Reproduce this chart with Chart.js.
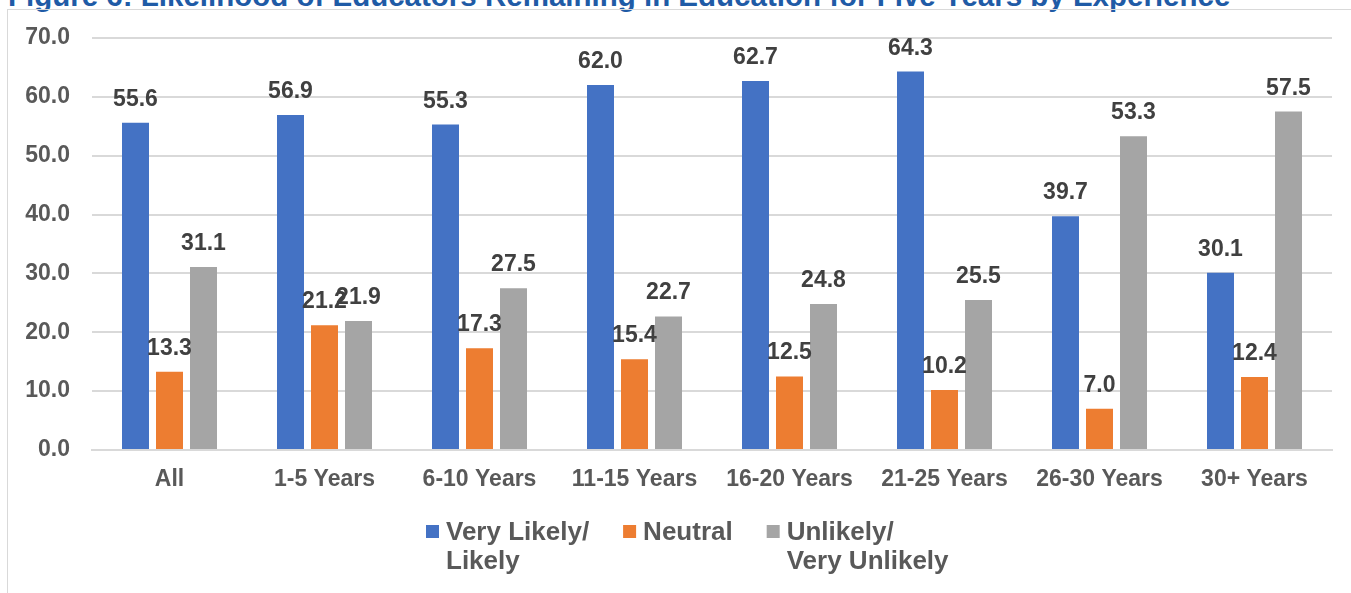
<!DOCTYPE html>
<html>
<head>
<meta charset="utf-8">
<title>Likelihood of Educators Remaining in Education for Five Years by Experience</title>
<script src="https://cdn.jsdelivr.net/npm/chart.js@4/dist/chart.umd.min.js"></script>
<style>
  html, body { margin: 0; padding: 0; background: #ffffff; overflow: hidden; }
  body { width: 1351px; height: 593px; position: relative; }
  #title {
    position: absolute; left: 8px; top: -21px; margin: 0;
    font: bold 29.5px "Liberation Sans", Arial, sans-serif;
    color: #1F5BA6; white-space: nowrap; line-height: 33px;
  }
  #frame {
    position: absolute; left: 7px; top: 9px; width: 1400px; height: 700px;
    border: 1px solid #D9D9D9; box-sizing: border-box;
  }
  #chart { position: absolute; left: 0; top: 0; }
</style>
</head>
<body>
<h1 id="title">Figure 6: Likelihood of Educators Remaining in Education for Five Years by Experience</h1>
<div id="frame"></div>
<canvas id="chart" width="1351" height="593"></canvas>
<script>
// Years of experience groups
const categories = ["All", "1-5 Years", "6-10 Years", "11-15 Years", "16-20 Years", "21-25 Years", "26-30 Years", "30+ Years"];

// Percent of educators in each response group
const veryLikelyLikely = [55.6, 56.9, 55.3, 62.0, 62.7, 64.3, 39.7, 30.1];
const neutral = [13.3, 21.2, 17.3, 15.4, 12.5, 10.2, 7.0, 12.4];
const unlikelyVeryUnlikely = [31.1, 21.9, 27.5, 22.7, 24.8, 25.5, 53.3, 57.5];

// Legend text, one entry per line
const seriesNames = [["Very Likely/", "Likely"], ["Neutral"], ["Unlikely/", "Very Unlikely"]];
const seriesColors = ["#4472C4", "#ED7D31", "#A5A5A5"];

// Value axis ticks
const yTicks = [0, 10, 20, 30, 40, 50, 60, 70];

const FONT = "'Liberation Sans', Arial, sans-serif";
Chart.defaults.font.family = FONT;

// Value labels above each bar
const valueLabels = {
  id: "valueLabels",
  afterDatasetsDraw(chart) {
    const ctx = chart.ctx;
    ctx.save();
    ctx.font = "bold 23px " + FONT;
    ctx.fillStyle = "#404040";
    ctx.textAlign = "center";
    ctx.textBaseline = "alphabetic";
    chart.data.datasets.forEach((ds, i) => {
      chart.getDatasetMeta(i).data.forEach((bar, j) => {
        ctx.fillText(ds.data[j].toFixed(1), bar.x, bar.y - 17);
      });
    });
    ctx.restore();
  }
};

// Legend with wrapped labels below the axis
const wrappedLegend = {
  id: "wrappedLegend",
  afterDraw(chart) {
    const ctx = chart.ctx;
    ctx.save();
    ctx.font = "bold 26px " + FONT;
    ctx.textBaseline = "alphabetic";
    ctx.textAlign = "left";
    const box = 13, boxTop = 525, textGap = 20, itemGap = 34;
    const line1 = 540, lineStep = 29;
    let x = 426;
    seriesNames.forEach((lines, i) => {
      ctx.fillStyle = seriesColors[i];
      ctx.fillRect(x, boxTop, box, box);
      ctx.fillStyle = "#595959";
      let w = 0;
      lines.forEach((t, k) => {
        ctx.fillText(t, x + textGap, line1 + k * lineStep);
        w = Math.max(w, ctx.measureText(t).width);
      });
      x += textGap + w + itemGap;
    });
    ctx.restore();
  }
};

const datasets = [veryLikelyLikely, neutral, unlikelyVeryUnlikely].map((values, i) => ({
  label: seriesNames[i].join(" "),
  data: values,
  backgroundColor: seriesColors[i],
  borderWidth: 0,
  categoryPercentage: 0.658,
  barPercentage: 0.794
}));

new Chart(document.getElementById("chart"), {
  type: "bar",
  data: { labels: categories, datasets },
  options: {
    responsive: false,
    animation: false,
    layout: { padding: { left: 0, right: 19, top: 38, bottom: 0 } },
    plugins: {
      legend: { display: false },
      title: { display: false },
      tooltip: { enabled: false }
    },
    scales: {
      x: {
        grid: { display: false, drawTicks: false },
        border: { display: true, color: "#D9D9D9", width: 2 },
        ticks: {
          color: "#595959",
          font: { size: 23, weight: "bold" },
          padding: 16,
          maxRotation: 0,
          autoSkip: false
        },
        afterFit(scale) { scale.height = 143; }
      },
      y: {
        min: 0,
        max: 70,
        afterBuildTicks(scale) { scale.ticks = yTicks.map(v => ({ value: v })); },
        grid: { color: "#D9D9D9", lineWidth: 2, drawTicks: false },
        border: { display: false },
        ticks: {
          color: "#595959",
          font: { size: 23, weight: "bold" },
          padding: 22,
          callback: v => Number(v).toFixed(1)
        },
        afterFit(scale) { scale.width = 92; }
      }
    }
  },
  plugins: [valueLabels, wrappedLegend]
});
</script>
</body>
</html>
